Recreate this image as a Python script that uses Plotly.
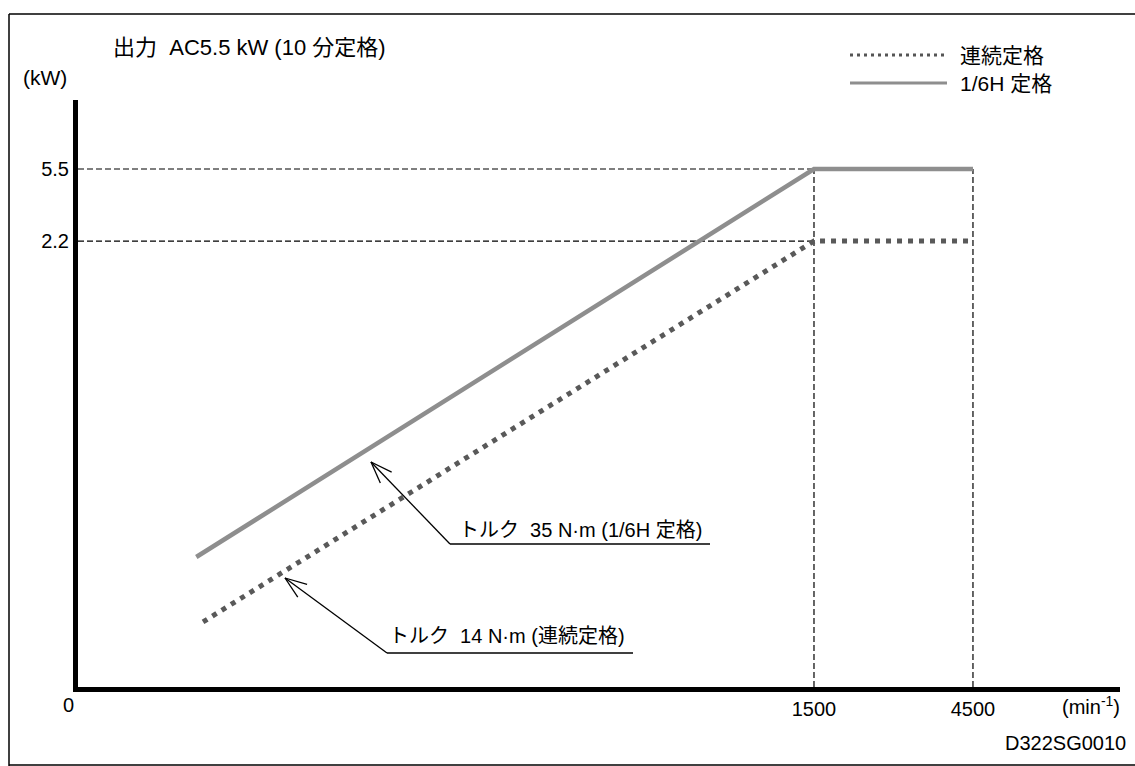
import numpy as np
import plotly.graph_objects as go

# ---- data ----
speed_16h = [21.0, 1500, 4500]          # min^-1
power_16h = [0.0395, 5.5, 5.5]           # kW  (torque 35 N·m, 1/6H rating)
speed_cont = [22.0, 1500, 4500]
power_cont = [0.0173, 2.2, 2.2]          # kW  (torque 14 N·m, continuous)
x_tickvals = [1500, 4500]
x_ticktext = ["1500", "4500"]
y_tickvals = [2.2, 5.5]
y_ticktext = ["2.2", "5.5"]
rated_speed = 1500
max_speed = 4500
rated_power_16h = 5.5
rated_power_cont = 2.2

# ---- layout geometry ----
W, H = 1135, 766
L, R, T, B = 78, 1120, 100, 687
xr = [0.9672, 4.0945]
yr = [-2.1215, 1.1216]
x_min = 10 ** xr[0]
y_min = 10 ** yr[0]

def pxx(p):
    return (p - L) / (R - L)

def pxy(p):
    return (B - p) / (B - T)

FONT = "Liberation Sans, Arial, Noto Sans CJK JP, sans-serif"

fig = go.Figure()

# dashed reference lines
dash_style = dict(color="black", width=1.2, dash="6px,3px")
for yv in [rated_power_16h, rated_power_cont]:
    fig.add_trace(go.Scatter(x=[x_min, rated_speed], y=[yv, yv], mode="lines",
                             line=dash_style, hoverinfo="skip", showlegend=False))
for xv in [rated_speed, max_speed]:
    fig.add_trace(go.Scatter(x=[xv, xv], y=[y_min, rated_power_16h], mode="lines",
                             line=dash_style, hoverinfo="skip", showlegend=False))

# continuous rating (dotted)
fig.add_trace(go.Scatter(x=speed_cont, y=power_cont, mode="lines",
                         line=dict(color="#595959", width=5, dash="5px,6px"),
                         name="連続定格", showlegend=False))
# 1/6H rating (solid grey)
fig.add_trace(go.Scatter(x=speed_16h, y=power_16h, mode="lines",
                         line=dict(color="#8e8e8e", width=4.5),
                         name="1/6H 定格", showlegend=False))

shapes = []
annotations = []

def seg(x0, y0, x1, y1, color="black", width=1.3, dash=None):
    ln = dict(color=color, width=width)
    if dash:
        ln["dash"] = dash
    shapes.append(dict(type="line", xref="paper", yref="paper",
                       x0=pxx(x0), y0=pxy(y0), x1=pxx(x1), y1=pxy(y1), line=ln))

# frame (left, top, bottom edges)
seg(9, 14, 9, 766, width=1.5)
seg(9, 14, 1135, 14, width=1.5)
seg(9, 765, 1135, 765, width=1.5)

# legend samples
seg(850, 55, 947, 55, color="#555555", width=3, dash="3px,4px")
seg(850, 83, 947, 83, color="#8e8e8e", width=3)

def text(x, y, s, size=20, xanchor="left"):
    annotations.append(dict(xref="paper", yref="paper", x=pxx(x), y=pxy(y), text=s,
                            showarrow=False, xanchor=xanchor, yanchor="middle",
                            font=dict(family=FONT, size=size, color="black")))

text(958, 55, "連続定格", 21)
text(958, 83, "1/6H 定格", 21)
text(111, 48, "出力  AC5.5 kW (10 分定格)", 22)
text(21, 78, "(kW)", 21)
text(68, 705, "0", 20, xanchor="center")
text(1060, 705, "(min<sup>-1</sup>)", 20)
text(1003, 743, "D322SG0010", 20)

# leader lines with open arrow heads + underlined labels
def leader(tip, tail, end_x, label, label_x, label_y):
    tip = np.array(tip, float)
    tail = np.array(tail, float)
    seg(tip[0], tip[1], tail[0], tail[1])
    seg(tail[0], tail[1], end_x, tail[1])
    d = tail - tip
    ang = np.arctan2(d[1], d[0])
    for s in (-1, 1):
        a = ang + s * np.deg2rad(20)
        seg(tip[0], tip[1], tip[0] + 23 * np.cos(a), tip[1] + 23 * np.sin(a))
    text(label_x, label_y, label, 20)

leader((371, 462), (450, 544), 710, "トルク  35 N·m (1/6H 定格)", 457, 530)
leader((285, 578), (387, 653), 633, "トルク  14 N·m (連続定格)", 387, 636)

fig.update_layout(
    width=W, height=H,
    margin=dict(l=L, r=W - R, t=T, b=H - B, pad=0),
    paper_bgcolor="white", plot_bgcolor="white",
    showlegend=False,
    shapes=shapes, annotations=annotations,
    xaxis=dict(type="log", range=xr, showgrid=False, zeroline=False,
               showline=True, linecolor="black", linewidth=5,
               tickmode="array", tickvals=x_tickvals, ticktext=x_ticktext,
               ticks="", ticklabelstandoff=0,
               tickfont=dict(family=FONT, size=20, color="black")),
    yaxis=dict(type="log", range=yr, showgrid=False, zeroline=False,
               showline=True, linecolor="black", linewidth=5,
               tickmode="array", tickvals=y_tickvals, ticktext=y_ticktext,
               ticks="", ticklabelstandoff=0,
               tickfont=dict(family=FONT, size=20, color="black")),
)

fig.write_html("out.html")
